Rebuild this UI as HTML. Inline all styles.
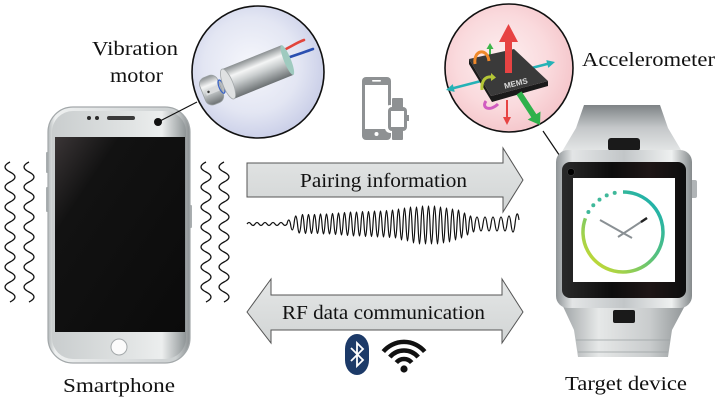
<!DOCTYPE html>
<html><head><meta charset="utf-8">
<style>
html,body{margin:0;padding:0;background:#fff;}
svg{display:block;}
.lbl{font-family:"Liberation Serif","Times New Roman",Times,serif;fill:#111;}
</style></head>
<body>
<svg width="725" height="400" viewBox="0 0 725 400" xmlns="http://www.w3.org/2000/svg">
<defs>
  <linearGradient id="phoneBody" x1="0" y1="0" x2="1" y2="0">
    <stop offset="0" stop-color="#b3b8ba"/>
    <stop offset="0.05" stop-color="#eef0f0"/>
    <stop offset="0.5" stop-color="#dcdfe0"/>
    <stop offset="0.9" stop-color="#cdd1d2"/>
    <stop offset="1" stop-color="#8c9193"/>
  </linearGradient>
  <linearGradient id="phoneFace" x1="0" y1="0" x2="1" y2="0">
    <stop offset="0" stop-color="#c9cdce"/>
    <stop offset="0.55" stop-color="#dfe2e2"/>
    <stop offset="0.82" stop-color="#eceeee"/>
    <stop offset="1" stop-color="#8f9597"/>
  </linearGradient>
  <linearGradient id="screen" x1="0" y1="0" x2="1" y2="1">
    <stop offset="0" stop-color="#3a3536"/>
    <stop offset="0.25" stop-color="#121212"/>
    <stop offset="1" stop-color="#0b0b0b"/>
  </linearGradient>
  <radialGradient id="motorBg" cx="0.45" cy="0.45" r="0.6">
    <stop offset="0" stop-color="#f6f7fc"/>
    <stop offset="0.6" stop-color="#e3e6f3"/>
    <stop offset="1" stop-color="#c6cbe6"/>
  </radialGradient>
  <radialGradient id="memsBg" cx="0.45" cy="0.45" r="0.6">
    <stop offset="0" stop-color="#fdf0f1"/>
    <stop offset="0.6" stop-color="#fadadd"/>
    <stop offset="1" stop-color="#f4c3c8"/>
  </radialGradient>
  <linearGradient id="cyl" x1="0" y1="0" x2="0" y2="1">
    <stop offset="0" stop-color="#8a8f91"/>
    <stop offset="0.3" stop-color="#f4f5f5"/>
    <stop offset="0.55" stop-color="#c9cdce"/>
    <stop offset="1" stop-color="#6c7173"/>
  </linearGradient>
  <linearGradient id="arrowFill" x1="0" y1="0" x2="0" y2="1">
    <stop offset="0" stop-color="#e4e6e6"/>
    <stop offset="1" stop-color="#d2d5d5"/>
  </linearGradient>
  <linearGradient id="caseG" x1="0" y1="0" x2="1" y2="0">
    <stop offset="0" stop-color="#8e9396"/>
    <stop offset="0.12" stop-color="#e3e5e6"/>
    <stop offset="0.5" stop-color="#c2c6c8"/>
    <stop offset="0.85" stop-color="#eef0f0"/>
    <stop offset="1" stop-color="#858a8c"/>
  </linearGradient>
  <linearGradient id="strapTop" x1="0" y1="0" x2="0" y2="1">
    <stop offset="0" stop-color="#7e8386"/>
    <stop offset="0.45" stop-color="#c4c7c9"/>
    <stop offset="1" stop-color="#e9ebeb"/>
  </linearGradient>
  <linearGradient id="strapBot" x1="0" y1="0" x2="1" y2="0">
    <stop offset="0" stop-color="#9ca1a3"/>
    <stop offset="0.3" stop-color="#e6e8e8"/>
    <stop offset="0.7" stop-color="#c9cccd"/>
    <stop offset="1" stop-color="#8d9294"/>
  </linearGradient>
  <linearGradient id="bezel" x1="0" y1="0" x2="1" y2="0">
    <stop offset="0" stop-color="#2a2a2a"/>
    <stop offset="0.4" stop-color="#0d0d0d"/>
    <stop offset="0.7" stop-color="#1e1616"/>
    <stop offset="1" stop-color="#0d0d0d"/>
  </linearGradient>
  <linearGradient id="ring" gradientUnits="userSpaceOnUse" x1="590" y1="270" x2="660" y2="195">
    <stop offset="0" stop-color="#cfdc2c"/>
    <stop offset="0.5" stop-color="#5cc27a"/>
    <stop offset="1" stop-color="#13aeb5"/>
  </linearGradient>
</defs>

<!-- vibration squiggles -->
<g fill="none" stroke="#111" stroke-width="1.3">
  <path d="M10 162 q-10 5 0 10 q10 5 0 10 q-10 5 0 10 q10 5 0 10 q-10 5 0 10 q10 5 0 10 q-10 5 0 10 q10 5 0 10 q-10 5 0 10 q10 5 0 10 q-10 5 0 10 q10 5 0 10 q-10 5 0 10 q10 5 0 10"/>
  <path d="M29 162 q-10 5 0 10 q10 5 0 10 q-10 5 0 10 q10 5 0 10 q-10 5 0 10 q10 5 0 10 q-10 5 0 10 q10 5 0 10 q-10 5 0 10 q10 5 0 10 q-10 5 0 10 q10 5 0 10 q-10 5 0 10 q10 5 0 10"/>
  <path d="M206 162 q-10 5 0 10 q10 5 0 10 q-10 5 0 10 q10 5 0 10 q-10 5 0 10 q10 5 0 10 q-10 5 0 10 q10 5 0 10 q-10 5 0 10 q10 5 0 10 q-10 5 0 10 q10 5 0 10 q-10 5 0 10 q10 5 0 10"/>
  <path d="M224 162 q-10 5 0 10 q10 5 0 10 q-10 5 0 10 q10 5 0 10 q-10 5 0 10 q10 5 0 10 q-10 5 0 10 q10 5 0 10 q-10 5 0 10 q10 5 0 10 q-10 5 0 10 q10 5 0 10 q-10 5 0 10 q10 5 0 10"/>
</g>

<!-- Smartphone -->
<rect x="46" y="152" width="3" height="21" rx="1" fill="#a9aeb0"/>
<rect x="46" y="187" width="3" height="25" rx="1" fill="#a9aeb0"/>
<rect x="189" y="205" width="3" height="23" rx="1" fill="#a9aeb0"/>
<rect x="48" y="107" width="142" height="256" rx="25" fill="url(#phoneBody)" stroke="#a3a8aa" stroke-width="1.2"/>
<rect x="52" y="111" width="134" height="248" rx="21" fill="url(#phoneFace)"/>
<rect x="55" y="137" width="130" height="195" fill="url(#screen)"/>
<circle cx="119" cy="347" r="8" fill="#fbfbfb" stroke="#a4a9ab" stroke-width="1"/>
<circle cx="89" cy="118" r="2" fill="#2a2a2a"/>
<circle cx="97" cy="118" r="2" fill="#2a2a2a"/>
<rect x="107" y="116" width="28" height="4" rx="2" fill="#3a3a3a"/>
<circle cx="158" cy="122" r="4" fill="#111"/>
<line x1="160" y1="121" x2="197" y2="102" stroke="#111" stroke-width="1.2"/>

<!-- motor circle -->
<circle cx="258" cy="72" r="66" fill="url(#motorBg)" stroke="#111" stroke-width="1.6"/>
<path d="M284 50 C292 46 298 42 304 40" stroke="#e2453c" stroke-width="2.6" fill="none" stroke-linecap="round"/>
<path d="M287 58 C296 55 305 52 313 49" stroke="#2a4fb0" stroke-width="2.6" fill="none" stroke-linecap="round"/>
<g transform="translate(228,84) rotate(-22)">
  <rect x="-9" y="-6" width="10" height="12" fill="#b7bbbd"/>
  <rect x="-27" y="-15" width="19" height="29" rx="7" fill="url(#cyl)" stroke="#9aa0a2" stroke-width="0.8"/>
  <rect x="-24" y="-3" width="14" height="6" fill="#d9dbdc"/>
  <circle cx="-21" cy="0" r="1.2" fill="#333"/>
  <ellipse cx="-7" cy="0" rx="2.5" ry="7" fill="none" stroke="#3b63c4" stroke-width="1.3"/>
  <rect x="0" y="-16" width="64" height="32" fill="url(#cyl)"/>
  <ellipse cx="0" cy="0" rx="5" ry="16" fill="#dfe1e2" stroke="#a4a9ab" stroke-width="0.8"/>
  <ellipse cx="64" cy="0" rx="3.5" ry="16" fill="#9fcabf"/>
</g>

<!-- phone/watch icon -->
<rect x="362" y="77" width="29" height="63" rx="4" fill="#8e9193"/>
<rect x="365" y="85" width="23" height="44" fill="#fff"/>
<rect x="372" y="80" width="9" height="1.6" rx="0.8" fill="#fff"/>
<circle cx="376.5" cy="134" r="2" fill="#fff"/>
<rect x="385" y="105" width="24" height="28" rx="5" fill="#fff"/>
<rect x="392" y="98" width="11" height="10" rx="1" fill="#8e9193"/>
<rect x="392" y="130" width="11" height="10" rx="1" fill="#8e9193"/>
<rect x="388" y="107" width="19" height="24" rx="4" fill="#8e9193"/>
<rect x="391" y="111" width="13" height="16" fill="#fff"/>
<rect x="407" y="115" width="2" height="6" fill="#8e9193"/>

<!-- MEMS circle -->
<circle cx="509" cy="68" r="64" fill="url(#memsBg)" stroke="#111" stroke-width="1.6"/>
<g>
  <line x1="452" y1="88.5" x2="549" y2="63.5" stroke="#25b2b6" stroke-width="2.6"/>
  <polygon points="446,90 454.7,91.9 452.8,84.1" fill="#25b2b6"/>
  <polygon points="555,62 548.3,67.9 546.3,60.1" fill="#25b2b6"/>
  <line x1="490" y1="56" x2="490" y2="48" stroke="#3cb54a" stroke-width="2"/>
  <polygon points="486.5,49 493.5,49 490,43" fill="#3cb54a"/>
  <polygon points="469,64 492,102 548,86 548,81 491,96 469,59" fill="#1a1a1a"/>
  <polygon points="469,59 514,49 548,81 491,96" fill="#3a3a3a"/>
  <text x="516" y="86" font-family="Liberation Sans,sans-serif" font-size="8" font-weight="bold" fill="#dcdcdc" text-anchor="middle" transform="rotate(-14 516 84)">MEMS</text>
  <path d="M475 64 C473 50 487 47 489 61" stroke="#f0892a" stroke-width="3" fill="none"/>
  <path d="M482 90 C481 80 486 76 492 77" stroke="#b4c636" stroke-width="3" fill="none"/>
  <polygon points="491,73 496,77.5 491,81" fill="#b4c636"/>
  <path d="M498 104 C490 112 481 108 486 101" stroke="#d15bc0" stroke-width="3" fill="none"/>
  <rect x="505" y="40" width="7" height="33" fill="#e74343"/>
  <polygon points="508.5,24 499,42 518,42" fill="#e74343"/>
  <line x1="507" y1="100" x2="507" y2="118" stroke="#e74343" stroke-width="2"/>
  <polygon points="503,117 511,117 507,125" fill="#e74343"/>
  <line x1="519" y1="93" x2="534" y2="116" stroke="#2fb14b" stroke-width="6"/>
  <polygon points="540,125 540.5,111.5 527.7,119.6" fill="#2fb14b"/>
</g>
<line x1="543" y1="131" x2="570" y2="171" stroke="#111" stroke-width="1.2"/>

<!-- watch -->
<polygon points="584,105 660,105 668,128 684,155 560,155 576,128" fill="url(#strapTop)"/>
<rect x="608" y="138" width="32" height="13" rx="3" fill="#1a1a1a"/>
<rect x="690" y="180" width="7" height="18" rx="2" fill="#b0b4b6"/>
<polygon points="560,300 688,300 672,330 668,357 578,357 574,330" fill="url(#strapBot)"/>
<line x1="576" y1="340" x2="670" y2="340" stroke="#9aa0a2" stroke-width="0.8"/>
<line x1="578" y1="352" x2="668" y2="352" stroke="#9aa0a2" stroke-width="0.8"/>
<rect x="556" y="150" width="136" height="158" rx="12" fill="url(#caseG)"/>
<rect x="562" y="162" width="124" height="136" rx="8" fill="url(#bezel)"/>
<rect x="573" y="178" width="102" height="104" fill="#fff"/>
<rect x="613" y="310" width="22" height="13" rx="2" fill="#1a1a1a"/>
<circle cx="571" cy="172" r="3.5" fill="#000" stroke="#444" stroke-width="0.5"/>
<path d="M623 192 A40 40 0 1 1 585.4 218.3" fill="none" stroke="url(#ring)" stroke-width="3.5"/>
<g fill="#3fb89a">
  <circle cx="588.4" cy="212" r="2"/>
  <circle cx="593.3" cy="205.2" r="2"/>
  <circle cx="599.5" cy="199.6" r="2"/>
  <circle cx="606.7" cy="195.4" r="2"/>
  <circle cx="614.7" cy="192.9" r="2"/>
</g>
<line x1="600" y1="220" x2="632" y2="238" stroke="#8a9094" stroke-width="2"/>
<line x1="647" y1="218" x2="618" y2="237" stroke="#8a9094" stroke-width="2"/>
<line x1="641" y1="222" x2="647" y2="218" stroke="#222" stroke-width="2.4"/>

<!-- Pairing arrow -->
<polygon points="247,163 503,163 503,148 523,180 503,212 503,197 247,197" fill="url(#arrowFill)" stroke="#555" stroke-width="1"/>
<text class="lbl" font-family="Liberation Serif, serif" x="383.5" y="187" font-size="20" text-anchor="middle" textLength="167" lengthAdjust="spacingAndGlyphs">Pairing information</text>

<!-- waveform -->
<path fill="none" stroke="#111" stroke-width="1.2" d="M247 224
q2 -3 4 0 q2 3 4 0 q2 -3 4 0 q2 3 4 0 q2 -3 4 0 q2 3 4 0 q2 -3 4 0 q2 3 4 0 q2 -3 4 0 q2 3 4 0
q1.75 -8 3.5 0 q1.75 12 3.5 0 q1.75 -16 3.5 0 q1.75 18 3.5 0
q1.5 -19 3 0 q1.5 19 3 0 q1.5 -19 3 0 q1.5 19 3 0 q1.5 -19 3 0 q1.5 19 3 0 q1.5 -20 3 0 q1.5 20 3 0 q1.5 -20 3 0 q1.5 20 3 0 q1.5 -21 3 0 q1.5 21 3 0
q1.5 -22 3 0 q1.5 22 3 0 q1.5 -23 3 0 q1.5 23 3 0 q1.5 -24 3 0 q1.5 24 3 0 q1.5 -24 3 0 q1.5 24 3 0 q1.5 -25 3 0 q1.5 25 3 0 q1.5 -25 3 0 q1.5 25 3 0 q1.5 -26 3 0 q1.5 26 3 0 q1.5 -26 3 0 q1.5 26 3 0 q1.5 -27 3 0 q1.5 27 3 0 q1.5 -28 3 0 q1.5 28 3 0
q1.5 -30 3 0 q1.5 32 3 0 q1.5 -32 3 0 q1.5 34 3 0 q1.5 -34 3 0 q1.5 38 3 0 q1.5 -34 3 0 q1.5 40 3 0 q1.5 -36 3 0 q1.5 40 3 0 q1.5 -36 3 0 q1.5 40 3 0 q1.5 -36 3 0 q1.5 40 3 0 q1.5 -34 3 0 q1.5 38 3 0 q1.5 -32 3 0 q1.5 36 3 0 q1.5 -30 3 0 q1.5 32 3 0 q1.5 -28 3 0 q1.5 28 3 0
q1.5 -22 3 0 q1.5 22 3 0 q1.5 -16 3 0 q1.5 16 3 0
q2 -14 4 0 q2 14 4 0 q2 -14 4 0 q2 14 4 0 q2 -14 4 0 q2 14 4 0 q2 -14 4 0 q2 14 4 0 q2 -16 4 0 q2 16 4 0 q2 -18 4 -4"/>

<!-- RF arrow -->
<polygon points="247,312 271,279 271,295 502,295 502,279 523,312 502,343 502,330 271,330 271,343" fill="url(#arrowFill)" stroke="#555" stroke-width="1"/>
<text class="lbl" font-family="Liberation Serif, serif" x="383.5" y="319" font-size="20" text-anchor="middle" textLength="203" lengthAdjust="spacingAndGlyphs">RF data communication</text>

<!-- Bluetooth -->
<rect x="345" y="334" width="24" height="41" rx="12" ry="15" fill="#1c3a68"/>
<path d="M351 348 L363 360 L357 366 V343 L363 349 L351 361" fill="none" stroke="#fff" stroke-width="1.8" stroke-linejoin="miter"/>

<!-- WiFi -->
<g fill="none" stroke="#111" stroke-width="4.5" stroke-linecap="butt">
  <path d="M383.3 351.6 A27 27 0 0 1 424.7 351.6"/>
  <path d="M389.8 357.1 A18.5 18.5 0 0 1 418.2 357.1"/>
  <path d="M396.3 362.6 A10 10 0 0 1 411.7 362.6"/>
</g>
<circle cx="404" cy="369" r="3.6" fill="#111"/>

<!-- Labels -->
<text class="lbl" font-family="Liberation Serif, serif" x="135" y="55" font-size="20" text-anchor="middle" textLength="86" lengthAdjust="spacingAndGlyphs">Vibration</text>
<text class="lbl" font-family="Liberation Serif, serif" x="136.5" y="82" font-size="20" text-anchor="middle" textLength="53" lengthAdjust="spacingAndGlyphs">motor</text>
<text class="lbl" font-family="Liberation Serif, serif" x="648.5" y="66" font-size="20" text-anchor="middle" textLength="133" lengthAdjust="spacingAndGlyphs">Accelerometer</text>
<text class="lbl" font-family="Liberation Serif, serif" x="119" y="392" font-size="20" text-anchor="middle" textLength="112" lengthAdjust="spacingAndGlyphs">Smartphone</text>
<text class="lbl" font-family="Liberation Serif, serif" x="626" y="390" font-size="20" text-anchor="middle" textLength="122" lengthAdjust="spacingAndGlyphs">Target device</text>
</svg>
</body></html>
